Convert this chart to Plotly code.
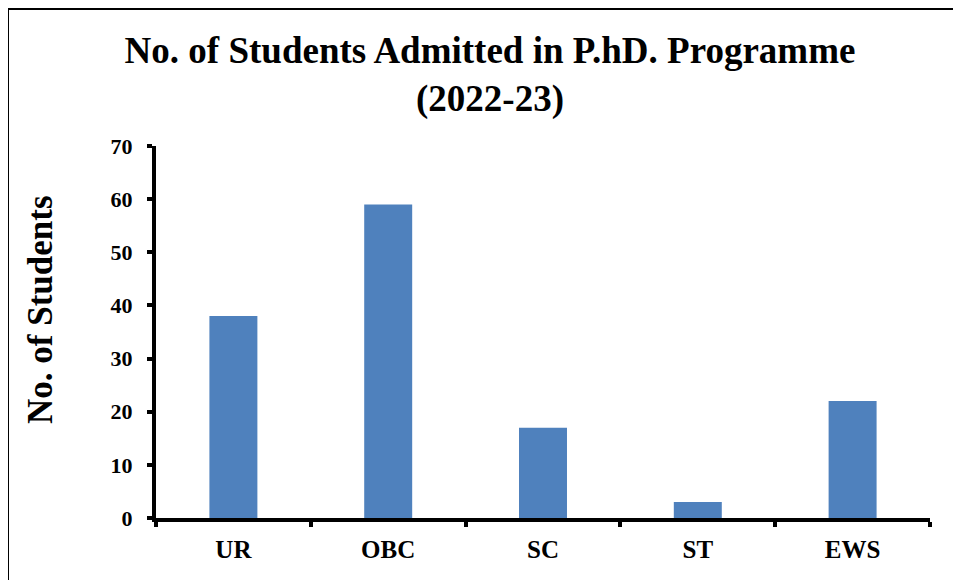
import plotly.graph_objects as go

categories = ["UR", "OBC", "SC", "ST", "EWS"]
students = [38, 59, 17, 3, 22]
y_ticks = [0, 10, 20, 30, 40, 50, 60, 70]

W, H = 961, 580
OFF = 8  # page body margin shifts the figure by 8px
L, R, T, B = 156 - OFF, 31 + OFF, 146 - OFF, 62 + OFF
pw, ph = W - L - R, H - T - B

font = "Liberation Serif"


def px(x):  # screen x -> paper x
    return (x - OFF - L) / pw


def py(y):  # screen y -> paper y
    return (H - B - (y - OFF)) / ph


fig = go.Figure()
fig.add_trace(go.Bar(x=categories, y=students, marker_color="#4F81BD",
                     marker_line_width=0, showlegend=False))

fig.update_layout(
    width=W, height=H,
    margin=dict(l=L, r=R, t=T, b=B),
    paper_bgcolor="white", plot_bgcolor="white",
    bargap=0.69,
    font=dict(family=font, color="black"),
    title=dict(text="<b>No. of Students Admitted in P.hD. Programme<br>(2022-23)</b>",
               x=(490 - OFF) / W, xanchor="center", y=(H - 63 + OFF) / H, yanchor="middle",
               font=dict(size=37, family=font, color="black")),
)

fig.update_xaxes(
    showline=True, linecolor="black", linewidth=4,
    ticks="outside", tickson="boundaries", ticklen=5, tickwidth=4, tickcolor="black",
    tickfont=dict(size=25, family=font, color="black", weight="bold"),
    ticklabelstandoff=6,
    showgrid=False,
)
fig.update_yaxes(
    range=[0, 70], tickvals=y_ticks,
    showline=True, linecolor="black", linewidth=4,
    ticks="outside", ticklen=5, tickwidth=4, tickcolor="black",
    tickfont=dict(size=22, family=font, color="black", weight="bold"),
    ticklabelstandoff=10,
    showgrid=False, zeroline=False,
    automargin=False,
)

fig.add_annotation(text="<b>No. of Students</b>", textangle=-90,
                   xref="paper", yref="paper", x=px(40), y=py(310),
                   xanchor="center", yanchor="middle", showarrow=False,
                   font=dict(size=35, family=font, color="black"))

# chart border (right/bottom edges fall outside the picture)
fig.add_shape(type="rect", xref="paper", yref="paper",
              x0=(0 - L) / pw, x1=(W + 20 - L) / pw,
              y0=-(B + 20) / ph, y1=(H - B - 1) / ph,
              line=dict(color="black", width=2), fillcolor="rgba(0,0,0,0)", layer="below")

fig.write_html("out.html")
